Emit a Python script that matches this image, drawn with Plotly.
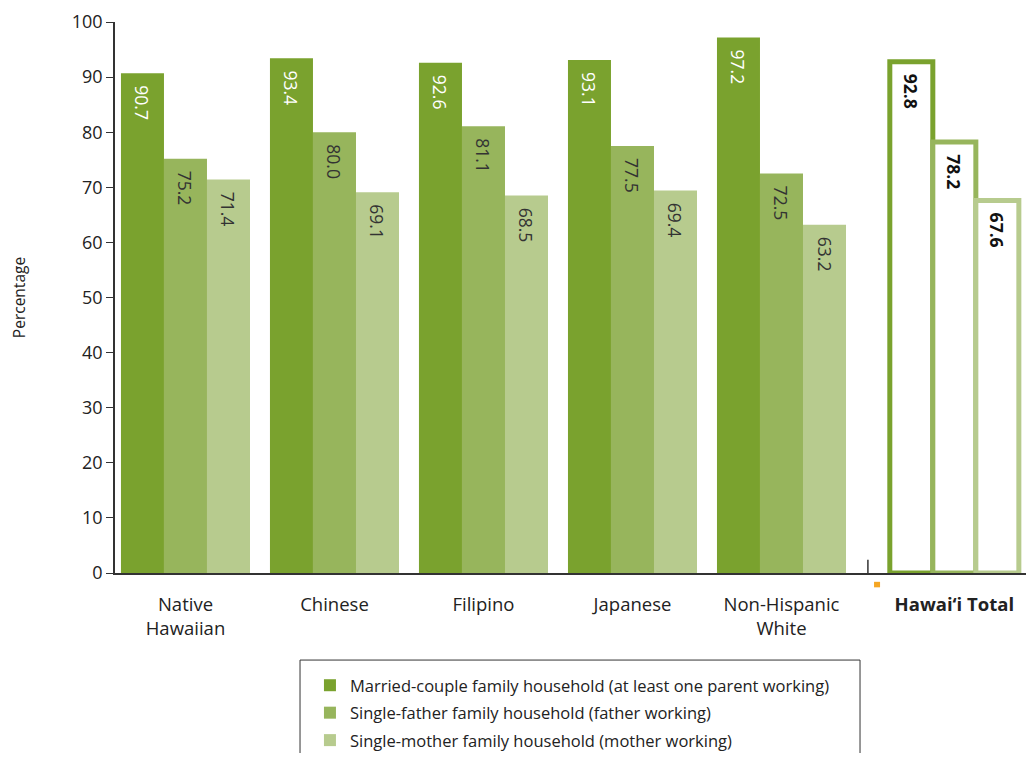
import plotly.graph_objects as go

DARK = "#7AA22E"
MID = "#97B55C"
LIGHT = "#B7CB8E"
AXIS = "#333333"
TEXT = "#222222"
FONT = "Open Sans"

categories = ["Native<br>Hawaiian", "Chinese", "Filipino", "Japanese", "Non-Hispanic<br>White", "<b>Hawai‘i Total</b>"]
# the total group sits a little further right than the regular spacing
x_pos = [0, 1, 2, 3, 4, 5.16]

married = [90.7, 93.4, 92.6, 93.1, 97.2, 92.8]
single_father = [75.2, 80.0, 81.1, 77.5, 72.5, 78.2]
single_mother = [71.4, 69.1, 68.5, 69.4, 63.2, 67.6]

series = [
    ("Married-couple family household (at least one parent working)", married, DARK, "white"),
    ("Single-father family household (father working)", single_father, MID, AXIS),
    ("Single-mother family household (mother working)", single_mother, LIGHT, AXIS),
]

x_min, x_max = -0.473, 5.641
PAD = "\u00a0\u00a0"  # pushes the rotated value labels down from the bar top

fig = go.Figure()
n = len(categories)
for name, vals, color, txtcol in series:
    fills = [color] * (n - 1) + ["white"]
    widths = [0] * (n - 1) + [5]
    text = [PAD + f"{v:.1f}" for v in vals[:-1]] + [PAD + f"<b>{vals[-1]:.1f}</b>"]
    fig.add_trace(
        go.Bar(
            x=x_pos,
            y=vals,
            name=name,
            marker={"color": fills, "line": {"color": color, "width": widths}},
            text=text,
            textposition="inside",
            insidetextanchor="end",
            textangle=90,
            textfont={"family": FONT, "size": 17.5, "color": [txtcol] * (n - 1) + ["#111111"]},
            legendgroup=name,
        )
    )

# small separator tick before the total group and the little orange mark
sep_x = (x_pos[4] + x_pos[5]) / 2
fig.add_shape(type="line", x0=sep_x, x1=sep_x, y0=0, y1=2.4, xref="x", yref="y",
              line={"color": AXIS, "width": 1.5})
fig.add_shape(type="rect", x0=0.8332, x1=0.8398, y0=-0.026, y1=-0.016,
              xref="paper", yref="paper", fillcolor="#F5A623", line={"width": 0})

# legend frame (runs off the bottom of the page like the original)
fig.add_shape(type="rect", x0=0.2031, x1=0.8178, y0=-0.158, y1=-0.40,
              xref="paper", yref="paper", line={"color": AXIS, "width": 1}, fillcolor="rgba(0,0,0,0)")

fig.update_layout(
    barmode="group",
    bargap=0.134,
    bargroupgap=0,
    width=1018,
    height=745,
    margin={"l": 107, "r": 0, "t": 14, "b": 180},
    plot_bgcolor="#FFFFFF",
    paper_bgcolor="#FFFFFF",
    font={"family": FONT, "color": TEXT, "size": 17},
    showlegend=True,
    legend={
        "x": 0.214,
        "y": 0.1141,
        "yref": "container",
        "xanchor": "left",
        "yanchor": "top",
        "borderwidth": 0,
        "font": {"family": FONT, "size": 16.5, "color": TEXT},
        "traceorder": "grouped",
        "tracegroupgap": 3,
    },
    xaxis={
        "range": [x_min, x_max],
        "tickvals": x_pos,
        "ticktext": categories,
        "ticks": "outside",
        "ticklen": 14,
        "tickcolor": "rgba(0,0,0,0)",
        "showgrid": False,
        "zeroline": False,
        "showline": True,
        "linecolor": AXIS,
        "linewidth": 2,
        "tickfont": {"family": FONT, "size": 18.5, "color": TEXT},
    },
    yaxis={
        "range": [0, 100],
        "tickvals": list(range(0, 101, 10)),
        "ticks": "outside",
        "ticklen": 7,
        "tickcolor": AXIS,
        "showgrid": False,
        "zeroline": False,
        "showline": True,
        "linecolor": AXIS,
        "linewidth": 1.5,
        "tickfont": {"family": FONT, "size": 18, "color": TEXT},
        "title": {"text": "Percentage", "font": {"family": FONT, "size": 15.5, "color": TEXT}, "standoff": 52},
    },
)

fig.write_html("out.html")
